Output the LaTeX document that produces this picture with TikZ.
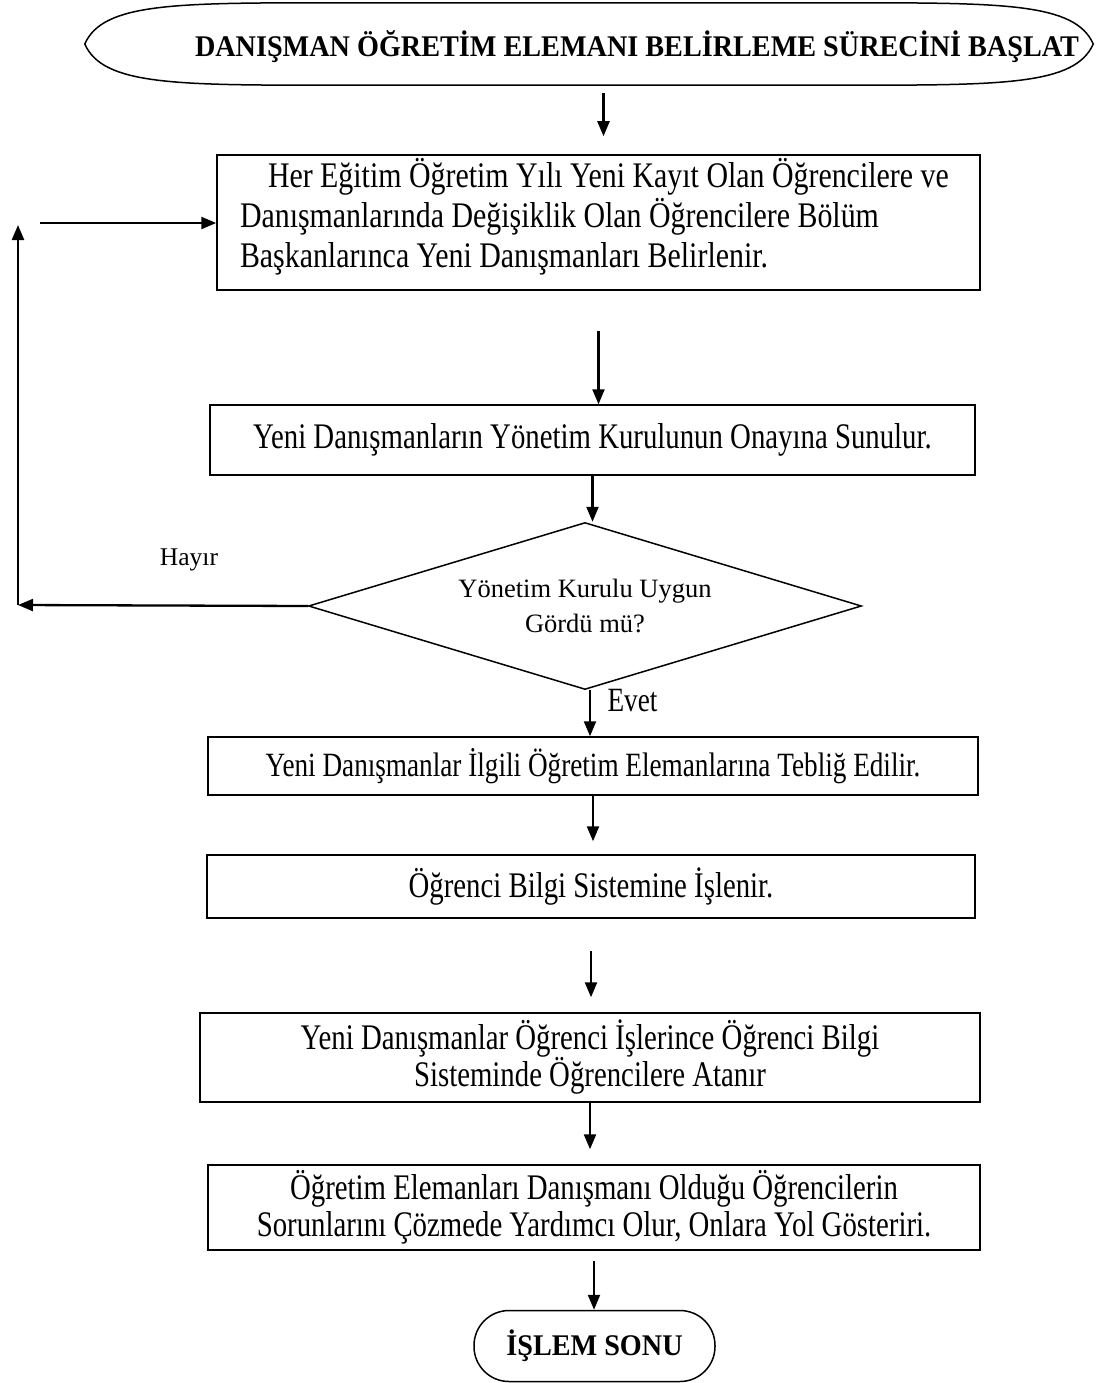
\documentclass[tikz,border=0pt]{standalone}
\usepackage{fontspec}
\setmainfont{Liberation Serif}
\newfontfamily\bodyfont[FakeStretch=0.80]{Liberation Serif}
\newfontfamily\widefont[FakeStretch=0.83]{Liberation Serif}
\newfontfamily\titlefont[FakeStretch=0.94]{Liberation Serif}
\usetikzlibrary{arrows.meta,shapes.geometric,positioning,calc}

\begin{document}
\begin{tikzpicture}[x=1pt,y=-1pt,
  procbox/.style={draw, line width=1.5pt, align=center, inner sep=0pt,
    font=\bodyfont\fontsize{36}{37}\selectfont},
  decision/.style={draw, diamond, aspect=3.31, line width=1.5pt, inner sep=0pt, align=center,
    font=\fontsize{26.5}{35}\selectfont},
  terminal/.style={draw, line width=1.5pt, rounded corners=35pt, inner sep=0pt,
    font=\titlefont\fontsize{30}{34}\selectfont\bfseries},
  flowarrow/.style={line width=2.3pt, -{Triangle[length=15pt,width=12pt]}}]
  \useasboundingbox (0,0) rectangle (1096,1383);
  % Start
  \node[minimum width=1008pt, minimum height=82pt, inner sep=0pt] (start) at (589,44) {};
  \draw[line width=1.5pt] (start.west)
    .. controls ([xshift=18pt]start.north west) and ([xshift=90pt]start.north west) .. ([xshift=250pt]start.north west)
    -- ([xshift=-250pt]start.north east)
    .. controls ([xshift=-90pt]start.north east) and ([xshift=-18pt]start.north east) .. (start.east)
    .. controls ([xshift=-18pt]start.south east) and ([xshift=-90pt]start.south east) .. ([xshift=-250pt]start.south east)
    -- ([xshift=250pt]start.south west)
    .. controls ([xshift=90pt]start.south west) and ([xshift=18pt]start.south west) .. (start.west) -- cycle;
  \node[font=\titlefont\fontsize{30}{34}\selectfont\bfseries] (starttext) at (637,47)
    {DANIŞMAN ÖĞRETİM ELEMANI BELİRLEME SÜRECİNİ BAŞLAT};
  % Steps
  \node[procbox, align=flush left, text width=717pt, minimum width=763pt, minimum height=135pt,
    font=\widefont\fontsize{36}{40}\selectfont] (box1) at (598.5,222.5)
    {\hspace*{28pt}Her Eğitim Öğretim Yılı Yeni Kayıt Olan Öğrencilere ve\\
     Danışmanlarında Değişiklik Olan Öğrencilere Bölüm\\
     Başkanlarınca Yeni Danışmanları Belirlenir.\\[-20pt]\mbox{}};
  \node[procbox, minimum width=765pt, minimum height=70pt] (box2) at (592.5,440)
    {Yeni Danışmanların Yönetim Kurulunun Onayına Sunulur.};
  \node[decision, minimum width=553pt, minimum height=167pt] (decide) at (585,606)
    {Yönetim Kurulu Uygun\\Gördü mü?};
  \node[procbox, minimum width=770pt, minimum height=58pt, font=\bodyfont\fontsize{34}{37}\selectfont] (box3) at (593,766)
    {Yeni Danışmanlar İlgili Öğretim Elemanlarına Tebliğ Edilir.};
  \node[procbox, minimum width=768pt, minimum height=63pt] (box4) at (591,886.5)
    {Öğrenci Bilgi Sistemine İşlenir.};
  \node[procbox, minimum width=780pt, minimum height=89pt] (box5) at (590,1057.5)
    {Yeni Danışmanlar Öğrenci İşlerince Öğrenci Bilgi\\Sisteminde Öğrencilere Atanır};
  \node[procbox, minimum width=772pt, minimum height=85pt] (box6) at (594,1207.5)
    {Öğretim Elemanları Danışmanı Olduğu Öğrencilerin\\Sorunlarını Çözmede Yardımcı Olur, Onlara Yol Gösteriri.};
  \node[terminal, minimum width=241pt, minimum height=71pt] (finish) at (594.5,1346) {İŞLEM SONU};
  % Labels
  \node[font=\fontsize{25.5}{30}\selectfont] (hayir) at (189,560) {Hayır};
  \node[font=\bodyfont\fontsize{34}{36}\selectfont, anchor=west] (evet) at (604,701) {Evet};
  % Flow
  \draw[flowarrow, shorten <=8pt, shorten >=18pt] ([xshift=5pt]start.south -| box1.north) -- ([xshift=5pt]box1.north);
  \draw[flowarrow, shorten <=40pt] (box1.south) -- (box1.south |- box2.north);
  \draw[flowarrow] (box2.south) -- (box2.south |- decide.north);
  \draw[flowarrow] ([xshift=5pt]decide.south) -- ([xshift=5pt]decide.south |- box3.north);
  \draw[flowarrow, shorten >=13pt] (box3.south) -- (box3.south |- box4.north);
  \draw[flowarrow, shorten <=32pt, shorten >=15pt] (box4.south) -- (box4.south |- box5.north);
  \draw[flowarrow, shorten >=15pt] (box5.south) -- (box5.south |- box6.north);
  \draw[flowarrow, shorten <=10pt] (box6.south) -- (box6.south |- finish.north);
  % Loop back
  \coordinate (loopbot) at (18,605);
  \coordinate (looptop) at (18,225);
  \coordinate (loopin) at (40,223);
  \draw[flowarrow] (decide.west) -- (loopbot);
  \draw[flowarrow] (loopbot) -- (looptop);
  \draw[flowarrow] (loopin) -- (loopin -| box1.west);
\end{tikzpicture}
\end{document}
